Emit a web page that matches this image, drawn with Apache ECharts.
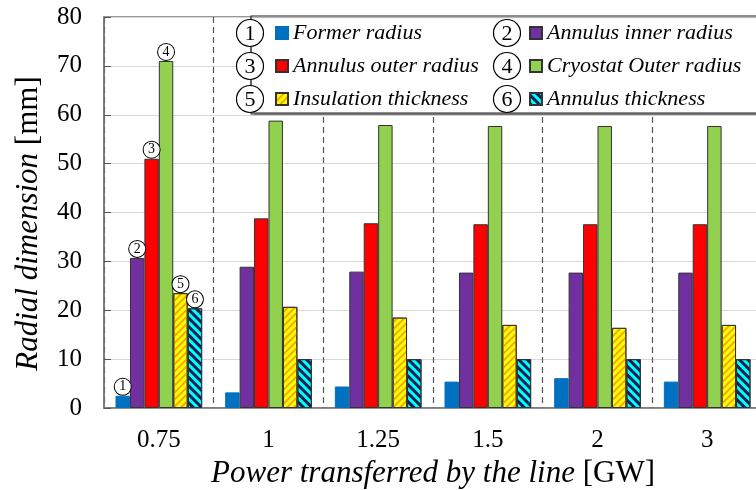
<!DOCTYPE html>
<html><head><meta charset="utf-8">
<script src="https://cdn.jsdelivr.net/npm/echarts@6/dist/echarts.min.js"></script>
<style>html,body{margin:0;padding:0;background:#fff}#c{width:756px;height:490px}</style>
</head><body><div id="c"></div>
<script>
const categories = ['0.75', '1', '1.25', '1.5', '2', '3'];
const formerRadius = [2.5, 3.2, 4.4, 5.4, 6.1, 5.4];
const annulusInnerRadius = [30.7, 28.9, 27.9, 27.7, 27.7, 27.7];
const annulusOuterRadius = [51.0, 38.8, 37.8, 37.6, 37.6, 37.6];
const cryostatOuterRadius = [71.0, 58.8, 57.9, 57.7, 57.7, 57.7];
const insulationThickness = [23.5, 20.7, 18.5, 17.0, 16.4, 17.0];
const annulusThickness = [20.4, 10, 10, 10, 10, 10];
const yTicks = [0, 10, 20, 30, 40, 50, 60, 70, 80];
const seriesNames = ['Former radius', 'Annulus inner radius', 'Annulus outer radius',
  'Cryostat Outer radius', 'Insulation thickness', 'Annulus thickness'];

const FONT = 'Liberation Serif';
const seriesData = [formerRadius, annulusInnerRadius, annulusOuterRadius,
  cryostatOuterRadius, insulationThickness, annulusThickness];
const colors = ['#0070C0', '#7030A0', '#FF0000', '#92D050', '#FFFF00', '#00FFFF'];
const decals = [null, null, null, null,
  { color: '#F5A800', dashArrayX: [1, 0], dashArrayY: [2, 3], rotation: -Math.PI / 4, symbolSize: 1 },
  { color: '#102050', dashArrayX: [1, 0], dashArrayY: [2.5, 2.5], rotation: Math.PI / 4, symbolSize: 1 }];

const chart = echarts.init(document.getElementById('c'));

const series = seriesNames.map((name, si) => ({
  name: name,
  type: 'bar',
  barGap: '0%',
  barCategoryGap: '21%',
  itemStyle: Object.assign({ color: colors[si], borderColor: si === 0 ? colors[0] : '#333', borderWidth: 1 },
    decals[si] ? { decal: decals[si] } : {}),
  data: seriesData[si].map((v, i) => i === 0 ? {
    value: v,
    label: {
      show: true, position: 'top', distance: 1,
      formatter: String(si + 1),
      fontFamily: FONT, fontSize: 14, color: '#000',
      backgroundColor: '#fff', borderColor: '#000', borderWidth: 1,
      borderRadius: 8, width: 16, height: 16, lineHeight: 16, align: 'center', padding: 0
    }
  } : v)
}));

const legendRows = [[0, 2, 4], [1, 3, 5]];
const legendBase = {
  orient: 'vertical', top: 22, padding: 0, itemWidth: 12, itemHeight: 12, itemGap: 11, icon: 'rect', z: 20,
  textStyle: { fontFamily: FONT, fontStyle: 'italic', fontSize: 22, color: '#000', lineHeight: 22 },
  selectedMode: false
};

const circleCenters = [[250, 33], [507, 33], [250, 66], [507, 66], [250, 99], [507, 99]];
const graphics = [{
  type: 'rect', z: 15, shape: { x: 251, y: 16, width: 520, height: 97 },
  style: { fill: '#fff', stroke: '#222', lineWidth: 1.2, shadowColor: 'rgba(0,0,0,0.35)', shadowOffsetY: 1.5, shadowBlur: 1 }
}];
circleCenters.forEach((c, i) => {
  graphics.push({ type: 'circle', z: 21, shape: { cx: c[0], cy: c[1], r: 13.5 },
    style: { fill: '#fff', stroke: '#000', lineWidth: 1.2 } });
  graphics.push({ type: 'text', z: 22, x: c[0], y: c[1] + 1,
    style: { text: String(i + 1), font: '22px "Liberation Serif"', fill: '#000', align: 'center', verticalAlign: 'middle' } });
});

chart.setOption({
  animation: false,
  backgroundColor: '#fff',
  grid: { left: 104, right: -6, top: 17, bottom: 82, show: true, borderColor: '#777', borderWidth: 1.5,
    containLabel: false, outerBoundsMode: 'none' },
  legend: [
    Object.assign({}, legendBase, { left: 275, data: legendRows[0].map(i => seriesNames[i]) }),
    Object.assign({}, legendBase, { left: 529, data: legendRows[1].map(i => seriesNames[i]) })
  ],
  graphic: graphics,
  xAxis: {
    type: 'category', data: categories,
    axisLine: { show: true, lineStyle: { color: '#777', width: 1.5 } },
    axisTick: { show: false },
    axisLabel: { fontFamily: FONT, fontSize: 25, color: '#000', margin: 20, interval: 0 },
    splitLine: { show: true, interval: 0, lineStyle: { color: '#555', width: 1.2, type: [6, 4] } },
    name: '{i|Power transferred by the line} [GW]',
    nameLocation: 'middle', nameGap: 49,
    nameTextStyle: { fontFamily: FONT, fontSize: 31, color: '#000',
      rich: { i: { fontFamily: FONT, fontSize: 31, fontStyle: 'italic', color: '#000' } } }
  },
  yAxis: {
    type: 'value', min: yTicks[0], max: yTicks[yTicks.length - 1], interval: 10,
    axisLine: { show: true, lineStyle: { color: '#777', width: 1.5 } },
    axisTick: { show: true, inside: true, length: 7, lineStyle: { color: '#555' } },
    axisLabel: { fontFamily: FONT, fontSize: 25, color: '#000', margin: 22 },
    splitLine: { show: true, lineStyle: { color: '#d9d9d9', width: 1.2 } },
    name: '{i|Radial dimension} [mm]',
    nameLocation: 'middle', nameGap: 60,
    nameTextStyle: { fontFamily: FONT, fontSize: 31, color: '#000', padding: [0, 22, 0, 0],
      rich: { i: { fontFamily: FONT, fontSize: 31, fontStyle: 'italic', color: '#000' } } }
  },
  series: series
});
</script></body></html>
